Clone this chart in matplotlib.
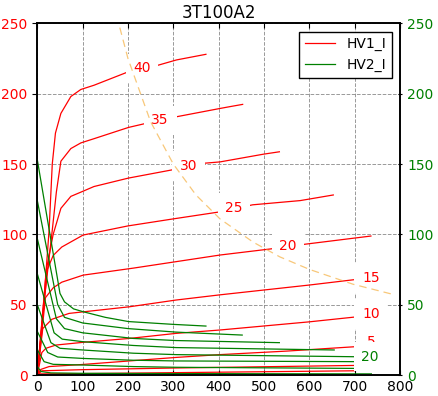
import numpy as np
import matplotlib
matplotlib.use("Agg")
import matplotlib.pyplot as plt

# HV1_I curves (left axis): vce points and currents
hv1_v = {
    40: [0, 15, 26, 33, 40, 52, 74, 96, 125, 201, 267, 307, 372],
    35: [0, 16, 33, 42, 52, 74, 96, 125, 201, 241, 307, 403, 425, 453],
    30: [0, 20, 35, 52, 74, 96, 125, 201, 300, 366, 403, 499, 534],
    25: [0, 22, 35, 54, 101, 200, 300, 403, 475, 580, 653],
    20: [0, 18, 35, 54, 101, 212, 403, 524, 591, 736],
    15: [0, 12, 32, 70, 203, 306, 403, 601, 705],
    10: [0, 10, 19, 41, 100, 203, 306, 403, 600, 700],
    5: [0, 8, 26, 100, 203, 306, 403, 550, 700],
    2: [0, 10, 100, 306, 700],
    0: [0, 5, 100, 700],
}
hv1_i = {
    40: [0, 55, 103, 150, 172, 186, 198, 203, 206, 215.6, 220.3, 224, 228],
    35: [0, 55, 103, 130, 152, 161, 165, 168, 176, 179, 183.6, 189.5, 190.8, 192.4],
    30: [0, 75, 100, 118.5, 127, 130, 134, 140, 146, 150.5, 151.5, 157, 158.7],
    25: [0, 75, 85, 91, 99.5, 106, 111, 116, 121, 124, 128],
    20: [0, 55, 62, 66, 71, 76, 85.3, 90, 93, 98.8],
    15: [0, 33, 39.6, 43.8, 48.5, 53.3, 57, 64, 68],
    10: [0, 16, 19, 21.3, 23.2, 26, 29.6, 32, 37.8, 41.2],
    5: [0, 4, 6, 7.5, 10, 12.5, 14.5, 17, 20.1],
    2: [0, 3, 3.8, 5, 6.8],
    0: [0, 0.8, 1, 3],
}

# HV2_I curves (right axis)
hv2_v = [
    [0, 50, 60, 80, 101, 150, 201, 300, 372],
    [0, 45, 60, 100, 200, 306, 452],
    [0, 42, 60, 100, 212, 306, 534],
    [0, 37, 55, 100, 212, 306, 655],
    [0, 30, 50, 100, 212, 306, 700],
    [0, 23, 45, 100, 212, 306, 700],
    [0, 15, 35, 100, 212, 306, 700],
    [0, 8, 30, 100, 306, 737],
]
hv2_i = [
    [153, 58, 52, 47, 45, 41, 38, 36, 34.8],
    [124, 50, 41, 37, 33, 30.5, 28.4],
    [97, 40, 33, 30, 26, 24.5, 23],
    [72, 30, 25.5, 23.7, 21, 19.5, 17.8],
    [50, 23, 19, 17.8, 15.5, 14.5, 13],
    [31, 16, 12.8, 11.8, 10.5, 10, 9.5],
    [18, 9.5, 7.6, 7.1, 6, 5.5, 4.7],
    [6, 2.5, 1.5, 1.2, 1, 0.8],
]

# max dissipation curve
pmax_v = [182, 200, 250, 300, 350, 403, 476, 535, 601, 697, 780]
pmax_i = [247, 225, 180, 150, 128, 111, 94.5, 84, 75, 64.5, 57.7]

red_labels = ["40", "35", "30", "25", "20", "15", "10", "5"]
red_label_pos = [(231, 218), (271, 181), (333, 148.5), (434, 118.7),
                 (553, 91.7), (736, 69), (736, 43.4), (736, 23.5)]

fig = plt.figure(figsize=(4.39, 3.96), dpi=100)
ax = fig.add_axes([0.085, 0.053, 0.826, 0.888])
ax2 = ax.twinx()

first = True
for k in hv1_v:
    ax.plot(hv1_v[k], hv1_i[k], color='r', lw=0.9,
            label='HV1_I' if first else None, zorder=2)
    first = False

for txt, (x, y) in zip(red_labels, red_label_pos):
    ax.text(x, y, txt, color='r', fontsize=10, ha='center', va='center',
            zorder=4, bbox=dict(boxstyle='square,pad=0.55', fc='white', ec='none'))

# dashed power limit drawn over the label boxes
ax.plot(pmax_v, pmax_i, color='#f5b041', alpha=0.7, lw=0.9, ls=(0, (6, 4)), zorder=5)

for i in range(len(hv2_v)):
    ax2.plot(hv2_v[i], hv2_i[i], color='g', lw=0.9,
             label='HV2_I' if i == 0 else None)

ax2.text(734, 13.0, "20", color='g', fontsize=10, ha='center', va='center',
         bbox=dict(boxstyle='square,pad=0.55', fc='white', ec='none'))

ax.set_xlim(0, 800)
ax.set_ylim(0, 250)
ax2.set_ylim(0, 250)
ax.set_xticks(np.arange(0, 801, 100))
ax.set_yticks(np.arange(0, 251, 50))
ax2.set_yticks(np.arange(0, 251, 50))

ax.grid(True, color='gray', ls='--', lw=0.7, alpha=0.8)
ax.tick_params(axis='x', direction='in', top=True, labelsize=10)
ax.tick_params(axis='y', direction='out', labelcolor='r', labelsize=10)
ax2.tick_params(axis='y', direction='inout', labelcolor='g', labelsize=10)
for a in (ax, ax2):
    for s in a.spines.values():
        s.set_linewidth(1.2)

ax.set_title("3T100A2", fontsize=12, pad=4)

h1, l1 = ax.get_legend_handles_labels()
h2, l2 = ax2.get_legend_handles_labels()
leg = ax2.legend(h1 + h2, l1 + l2, loc='upper right', fontsize=10,
                 fancybox=False, framealpha=1, edgecolor='black',
                 borderaxespad=0.6, handlelength=2.2)
leg.get_frame().set_linewidth(1.0)

fig.savefig("out.png", dpi=100)
